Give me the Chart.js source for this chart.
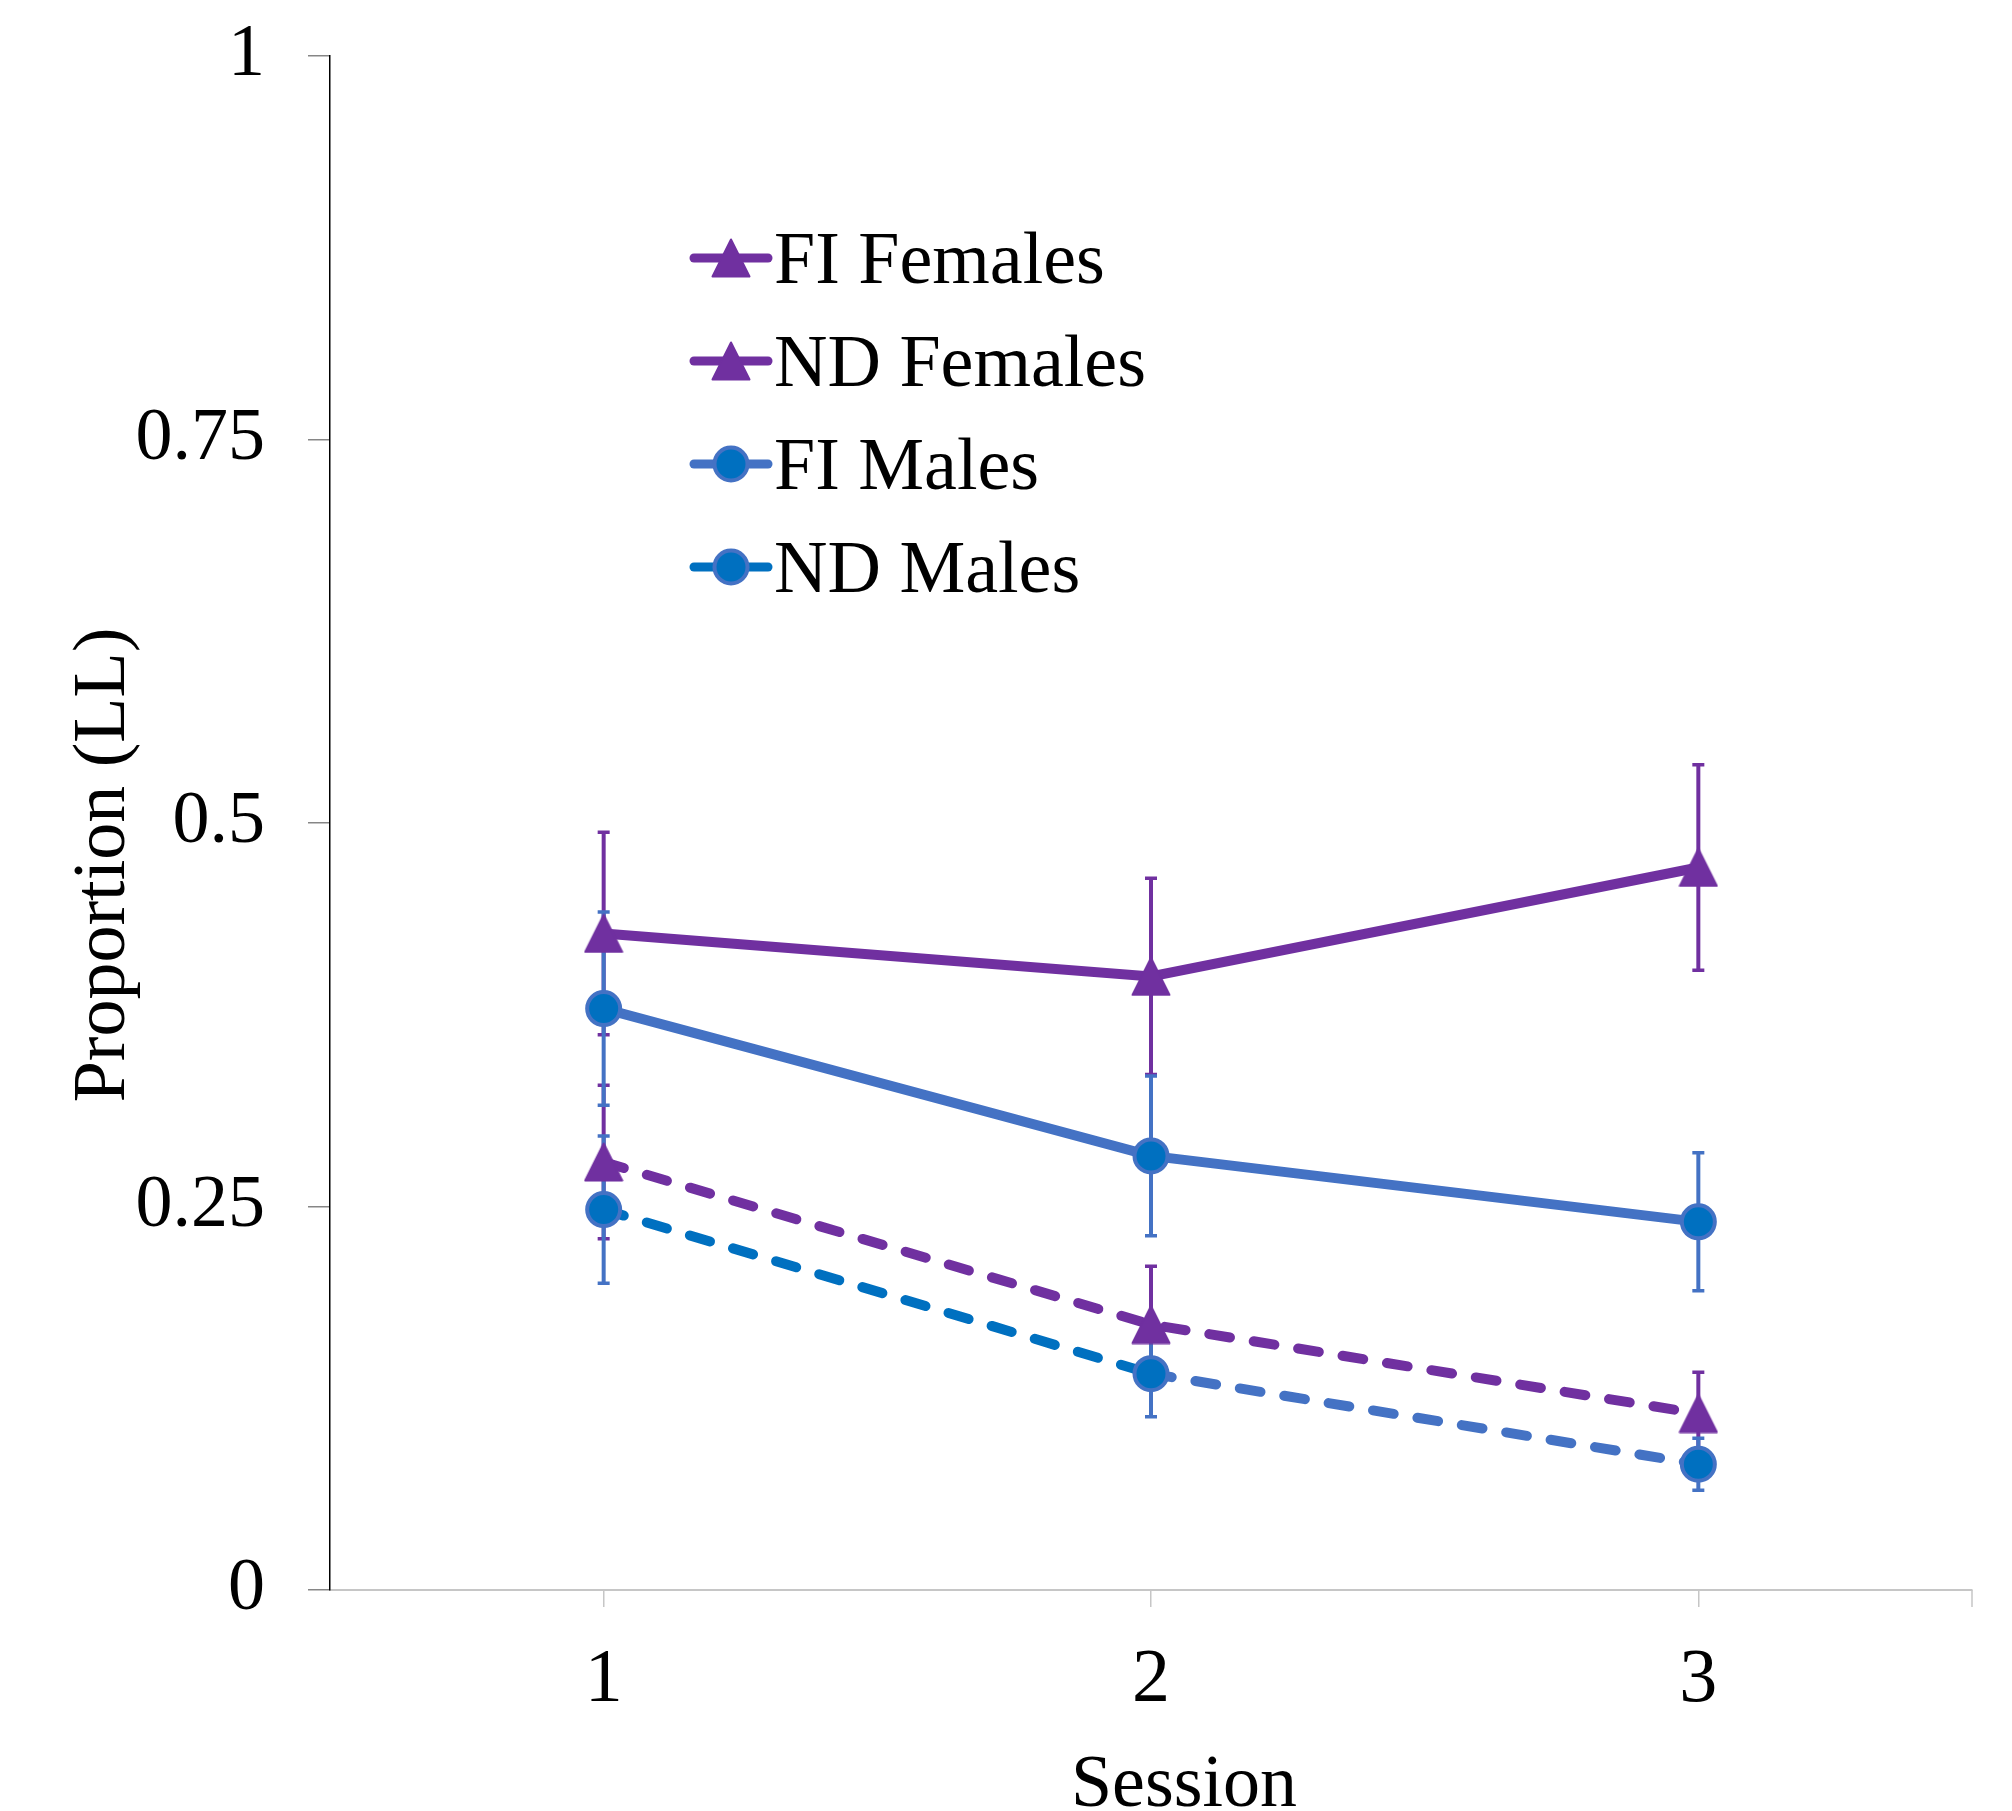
<!DOCTYPE html>
<html>
<head>
<meta charset="utf-8">
<script src="https://cdn.jsdelivr.net/npm/chart.js@4.4.1/dist/chart.umd.min.js"></script>
<style>
  html, body { margin: 0; padding: 0; background: #fff; }
  canvas { display: block; }
</style>
</head>
<body>
<canvas id="chart" width="2012" height="1811"></canvas>
<script>
const sessions = ['1', '2', '3'];
const yTicks = [0, 0.25, 0.5, 0.75, 1];

const fiFemales = [0.428, 0.400, 0.471];
const fiFemalesErr = [0.066, 0.064, 0.067];
const ndFemales = [0.279, 0.173, 0.115];
const ndFemalesErr = [0.050, 0.038, 0.027];
const fiMales = [0.379, 0.283, 0.240];
const fiMalesErr = [0.063, 0.052, 0.045];
const ndMales = [0.248, 0.141, 0.082];
const ndMalesErr = [0.048, 0.028, 0.017];

const purple = '#7030A0';
const steel = '#4472C4';
const blue = '#0070C0';
const font = '"Liberation Serif", "Times New Roman", serif';
const dash = [21, 24];

// excel style triangle, centred on its bounding box
function triangle(color) {
    const c = document.createElement('canvas');
    c.width = 40;
    c.height = 40;
    const g = c.getContext('2d');
    g.fillStyle = color;
    g.strokeStyle = color;
    g.lineWidth = 2;
    g.lineJoin = 'round';
    g.beginPath();
    g.moveTo(20, 1.5);
    g.lineTo(38.5, 38.5);
    g.lineTo(1.5, 38.5);
    g.closePath();
    g.fill();
    g.stroke();
    return c;
}
const tri = triangle(purple);

const errorBars = {
    id: 'errorBars',
    beforeDatasetsDraw(chart) {
        const {ctx, scales: {x, y}} = chart;
        chart.data.datasets.forEach(ds => {
            ctx.save();
            ctx.strokeStyle = ds.errorColor;
            ds.data.forEach((v, i) => {
                const px = x.getPixelForValue(i);
                const top = y.getPixelForValue(v + ds.errors[i]);
                const bot = y.getPixelForValue(v - ds.errors[i]);
                ctx.lineWidth = 4;
                ctx.beginPath();
                ctx.moveTo(px, top);
                ctx.lineTo(px, bot);
                ctx.stroke();
                ctx.lineWidth = 3.5;
                ctx.beginPath();
                ctx.moveTo(px - 6, top);
                ctx.lineTo(px + 6, top);
                ctx.moveTo(px - 6, bot);
                ctx.lineTo(px + 6, bot);
                ctx.stroke();
            });
            ctx.restore();
        });
    }
};

const extras = {
    id: 'extras',
    afterDraw(chart) {
        const {ctx, chartArea: a} = chart;
        ctx.save();
        // end tick on the category axis
        ctx.strokeStyle = '#c6c6c6';
        ctx.lineWidth = 1.5;
        ctx.beginPath();
        ctx.moveTo(a.right, a.bottom);
        ctx.lineTo(a.right, a.bottom + 17);
        ctx.stroke();

        ctx.fillStyle = '#000';
        ctx.font = '74px ' + font;
        ctx.textAlign = 'center';
        ctx.textBaseline = 'alphabetic';
        ctx.fillText('Session', (a.left + a.right) / 2 + 33, 1806);

        ctx.save();
        ctx.translate(124, (a.top + a.bottom) / 2 + 42);
        ctx.rotate(-Math.PI / 2);
        ctx.fillText('Proportion (LL)', 0, 0);
        ctx.restore();

        // legend: short line with marker, then label
        chart.data.datasets.forEach((ds, i) => {
            const cy = 258 + i * 103;
            ctx.strokeStyle = ds.legendColor;
            ctx.lineWidth = 9;
            ctx.lineCap = 'round';
            ctx.beginPath();
            ctx.moveTo(694, cy);
            ctx.lineTo(768, cy);
            ctx.stroke();
            if (ds.pointStyle === 'circle') {
                ctx.fillStyle = ds.pointBackgroundColor;
                ctx.strokeStyle = ds.pointBorderColor;
                ctx.lineWidth = ds.pointBorderWidth;
                ctx.beginPath();
                ctx.arc(731, cy, ds.pointRadius, 0, Math.PI * 2);
                ctx.fill();
                ctx.stroke();
            } else {
                Chart.helpers.drawPoint(ctx, {pointStyle: ds.pointStyle, radius: ds.pointRadius, rotation: 0}, 731, cy);
            }
            ctx.fillStyle = '#000';
            ctx.textAlign = 'left';
            ctx.fillText(ds.label, 774, cy + 25);
        });
        ctx.restore();
    }
};

const triangleSeries = (label, data, errors, lineDash) => ({
    label, data, errors,
    borderColor: purple,
    legendColor: purple,
    errorColor: purple,
    borderWidth: 10,
    borderDash: lineDash,
    borderCapStyle: 'round',
    pointStyle: tri,
    pointRadius: 20,
    tension: 0
});

const circleSeries = (label, data, errors, lineDash, lineColor, legendColor) => ({
    label, data, errors,
    borderColor: lineColor,
    legendColor,
    errorColor: steel,
    borderWidth: 10,
    borderDash: lineDash,
    borderCapStyle: 'round',
    pointStyle: 'circle',
    pointRadius: 16.5,
    pointBorderWidth: 4,
    pointBackgroundColor: blue,
    pointBorderColor: steel,
    tension: 0
});

const ndMalesSet = circleSeries('ND Males', ndMales, ndMalesErr, dash, steel, blue);
ndMalesSet.segment = {borderColor: s => s.p0DataIndex === 0 ? blue : steel};

new Chart(document.getElementById('chart'), {
    type: 'line',
    data: {
        labels: sessions,
        datasets: [
            triangleSeries('FI Females', fiFemales, fiFemalesErr, []),
            triangleSeries('ND Females', ndFemales, ndFemalesErr, dash),
            circleSeries('FI Males', fiMales, fiMalesErr, [], steel, steel),
            ndMalesSet
        ]
    },
    options: {
        responsive: false,
        animation: false,
        events: [],
        layout: {padding: {top: 56, right: 40, left: 0, bottom: 0}},
        plugins: {legend: {display: false}, tooltip: {enabled: false}},
        scales: {
            x: {
                offset: true,
                afterFit: s => { s.height = 221; s.paddingLeft = 0; s.paddingRight = 0; },
                grid: {drawOnChartArea: false, tickLength: 17, color: '#c6c6c6', lineWidth: 1.5},
                border: {color: '#c6c6c6', width: 2},
                ticks: {font: {family: font, size: 76}, color: '#000', padding: 28}
            },
            y: {
                min: 0,
                max: 1,
                afterFit: s => { s.width = 330; s.paddingTop = 0; s.paddingBottom = 0; },
                afterBuildTicks: s => { s.ticks = yTicks.map(v => ({value: v})); },
                grid: {drawOnChartArea: false, tickLength: 22, color: '#868686', lineWidth: 1.5},
                border: {color: '#000', width: 1.5},
                ticks: {font: {family: font, size: 74}, color: '#000', padding: 43, callback: v => String(v)}
            }
        }
    },
    plugins: [errorBars, extras]
});
</script>
</body>
</html>
